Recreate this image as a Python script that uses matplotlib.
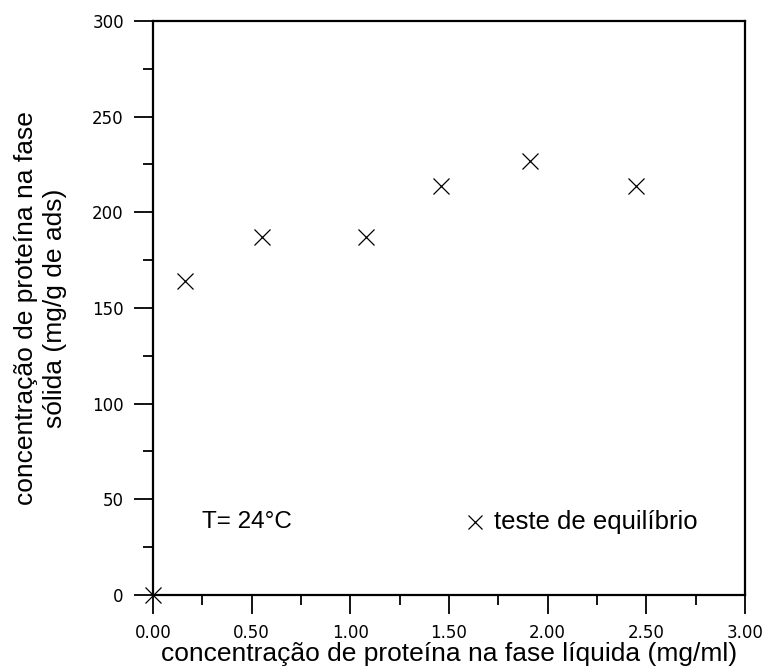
import numpy as np
import matplotlib
matplotlib.use("Agg")
from matplotlib import pyplot as plt
from matplotlib.ticker import MultipleLocator, FormatStrFormatter

plt.rcParams['font.family'] = ['Liberation Sans', 'DejaVu Sans']

# equilibrium test: liquid phase vs solid phase protein concentration
c_liquida = [0.00, 0.16, 0.55, 1.08, 1.46, 1.91, 2.45]
c_solida = [0, 164, 187, 187, 214, 227, 214]

fig = plt.figure(figsize=(7.62, 6.71), dpi=100)
ax = fig.add_axes([0.2008, 0.1133, 0.7769, 0.8554])

ax.plot(c_liquida, c_solida, linestyle='none', marker='x', color='black',
        markersize=11, markeredgewidth=0.9, clip_on=False, zorder=5)

ax.set_xlim(0, 3.0)
ax.set_ylim(0, 300)
ax.xaxis.set_major_locator(MultipleLocator(0.5))
ax.xaxis.set_minor_locator(MultipleLocator(0.25))
ax.yaxis.set_major_locator(MultipleLocator(50))
ax.yaxis.set_minor_locator(MultipleLocator(25))
ax.xaxis.set_major_formatter(FormatStrFormatter('%.2f'))

ax.tick_params(which='major', direction='out', length=14, width=1.3,
               labelsize=12, pad=7)
ax.tick_params(which='minor', direction='out', length=7, width=1.3)
ax.tick_params(top=False, right=False, which='both')
for lbl in ax.get_xticklabels() + ax.get_yticklabels():
    lbl.set_family('DejaVu Sans')
for s in ax.spines.values():
    s.set_linewidth(1.6)

ax.set_xlabel('concentração de proteína na fase líquida (mg/ml)', fontsize=19, labelpad=0)
ax.set_ylabel('concentração de proteína na fase\nsólida (mg/g de ads)', fontsize=19,
              labelpad=18, linespacing=1.25)

ax.text(0.25, 38, 'T= 24°C', fontsize=17.5, va='center', ha='left')
ax.plot([1.63], [38], linestyle='none', marker='x', color='black',
        markersize=10, markeredgewidth=0.9)
ax.text(1.73, 38, 'teste de equilíbrio', fontsize=18.5, va='center', ha='left')

fig.savefig('out.png', dpi=100)
